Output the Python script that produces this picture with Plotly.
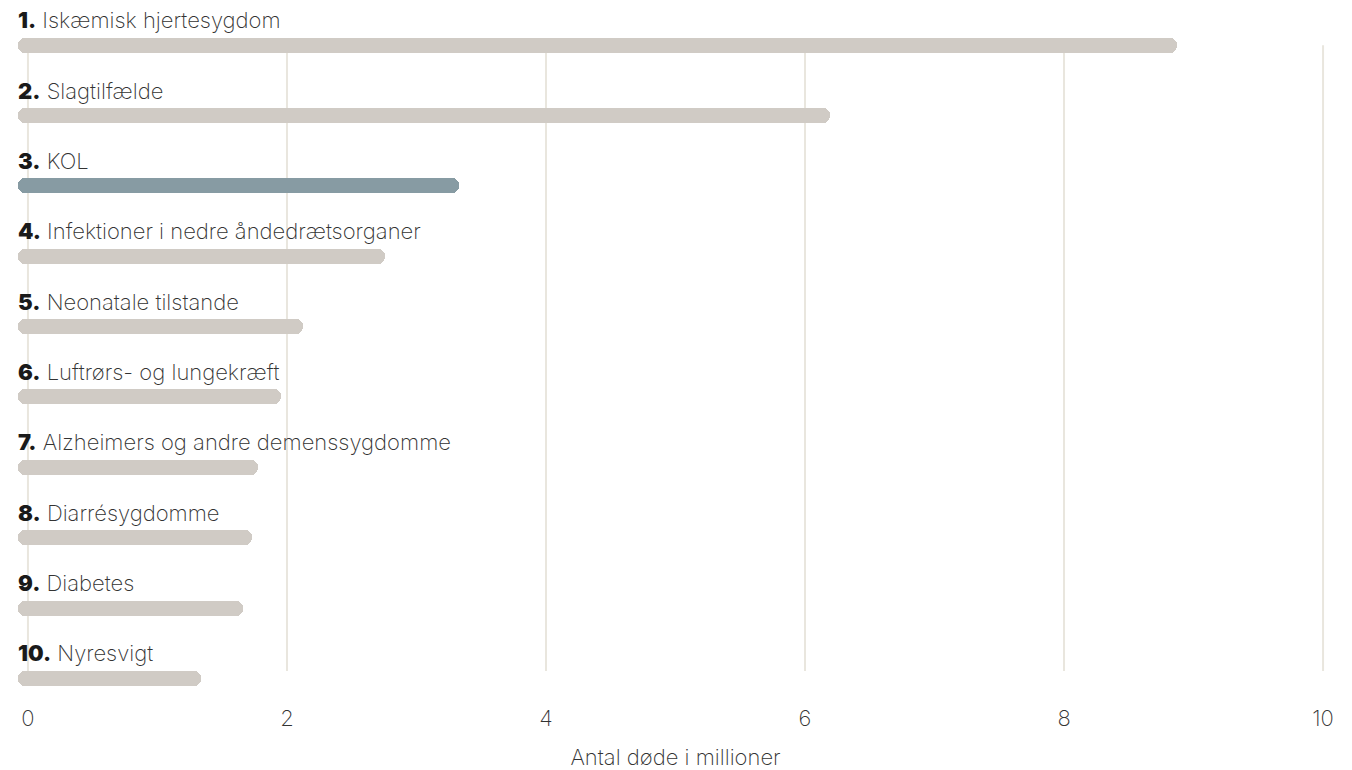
import plotly.graph_objects as go

ranks = ["1.", "2.", "3.", "4.", "5.", "6.", "7.", "8.", "9.", "10."]
causes = [
    "Iskæmisk hjertesygdom",
    "Slagtilfælde",
    "KOL",
    "Infektioner i nedre åndedrætsorganer",
    "Neonatale tilstande",
    "Luftrørs- og lungekræft",
    "Alzheimers og andre demenssygdomme",
    "Diarrésygdomme",
    "Diabetes",
    "Nyresvigt",
]
deaths_millions = [8.87, 6.19, 3.33, 2.76, 2.12, 1.95, 1.78, 1.73, 1.66, 1.34]
highlight = "KOL"
x_ticks = [0, 2, 4, 6, 8, 10]
x_title = "Antal døde i millioner"

GREY = "#d0cbc5"
BLUE = "#879ba3"
GRID = "#e9e6de"
TEXT = "#333333"
FONT = "Inter"

pos = list(range(len(causes)))
colors = [BLUE if c == highlight else GREY for c in causes]
BASE = -0.077

fig = go.Figure()
fig.add_trace(go.Bar(
    x=[v - BASE for v in deaths_millions],
    base=BASE,
    y=pos,
    orientation="h",
    width=0.213,
    marker=dict(color=colors, cornerradius="50%", line=dict(width=0)),
    hoverinfo="skip",
))

shapes = []
for t in x_ticks:
    shapes.append(dict(type="line", xref="x", yref="y", x0=t, x1=t,
                       y0=0, y1=len(causes) - 1 - 0.107,
                       line=dict(color=GRID, width=2), layer="below"))

annotations = []
for p, r, c in zip(pos, ranks, causes):
    annotations.append(dict(
        x=BASE, y=p, xref="x", yref="y", xanchor="left", yanchor="middle",
        yshift=25, xshift=-2, showarrow=False,
        text=f'<span style="font-weight:900;color:#1a1a1a">{r}</span> {c}',
        font=dict(family=FONT, size=22, color=TEXT, weight=200),
    ))

fig.update_layout(
    width=1352, height=770,
    margin=dict(l=15, r=16, t=17, b=74),
    paper_bgcolor="white", plot_bgcolor="white",
    showlegend=False,
    shapes=shapes,
    annotations=annotations,
    bargap=0,
    xaxis=dict(range=[-0.1, 10.1], tickvals=x_ticks, showgrid=False, zeroline=False,
               showline=False, ticks="", ticklabelstandoff=7, automargin=False,
               tickfont=dict(family=FONT, size=22, color=TEXT, weight=200),
               title=dict(text=x_title, standoff=19,
                          font=dict(family=FONT, size=22, color=TEXT, weight=200))),
    yaxis=dict(range=[9.25, -0.4], showticklabels=False, showgrid=False,
               zeroline=False, showline=False, ticks="", automargin=False),
)

fig.write_html("out.html")
